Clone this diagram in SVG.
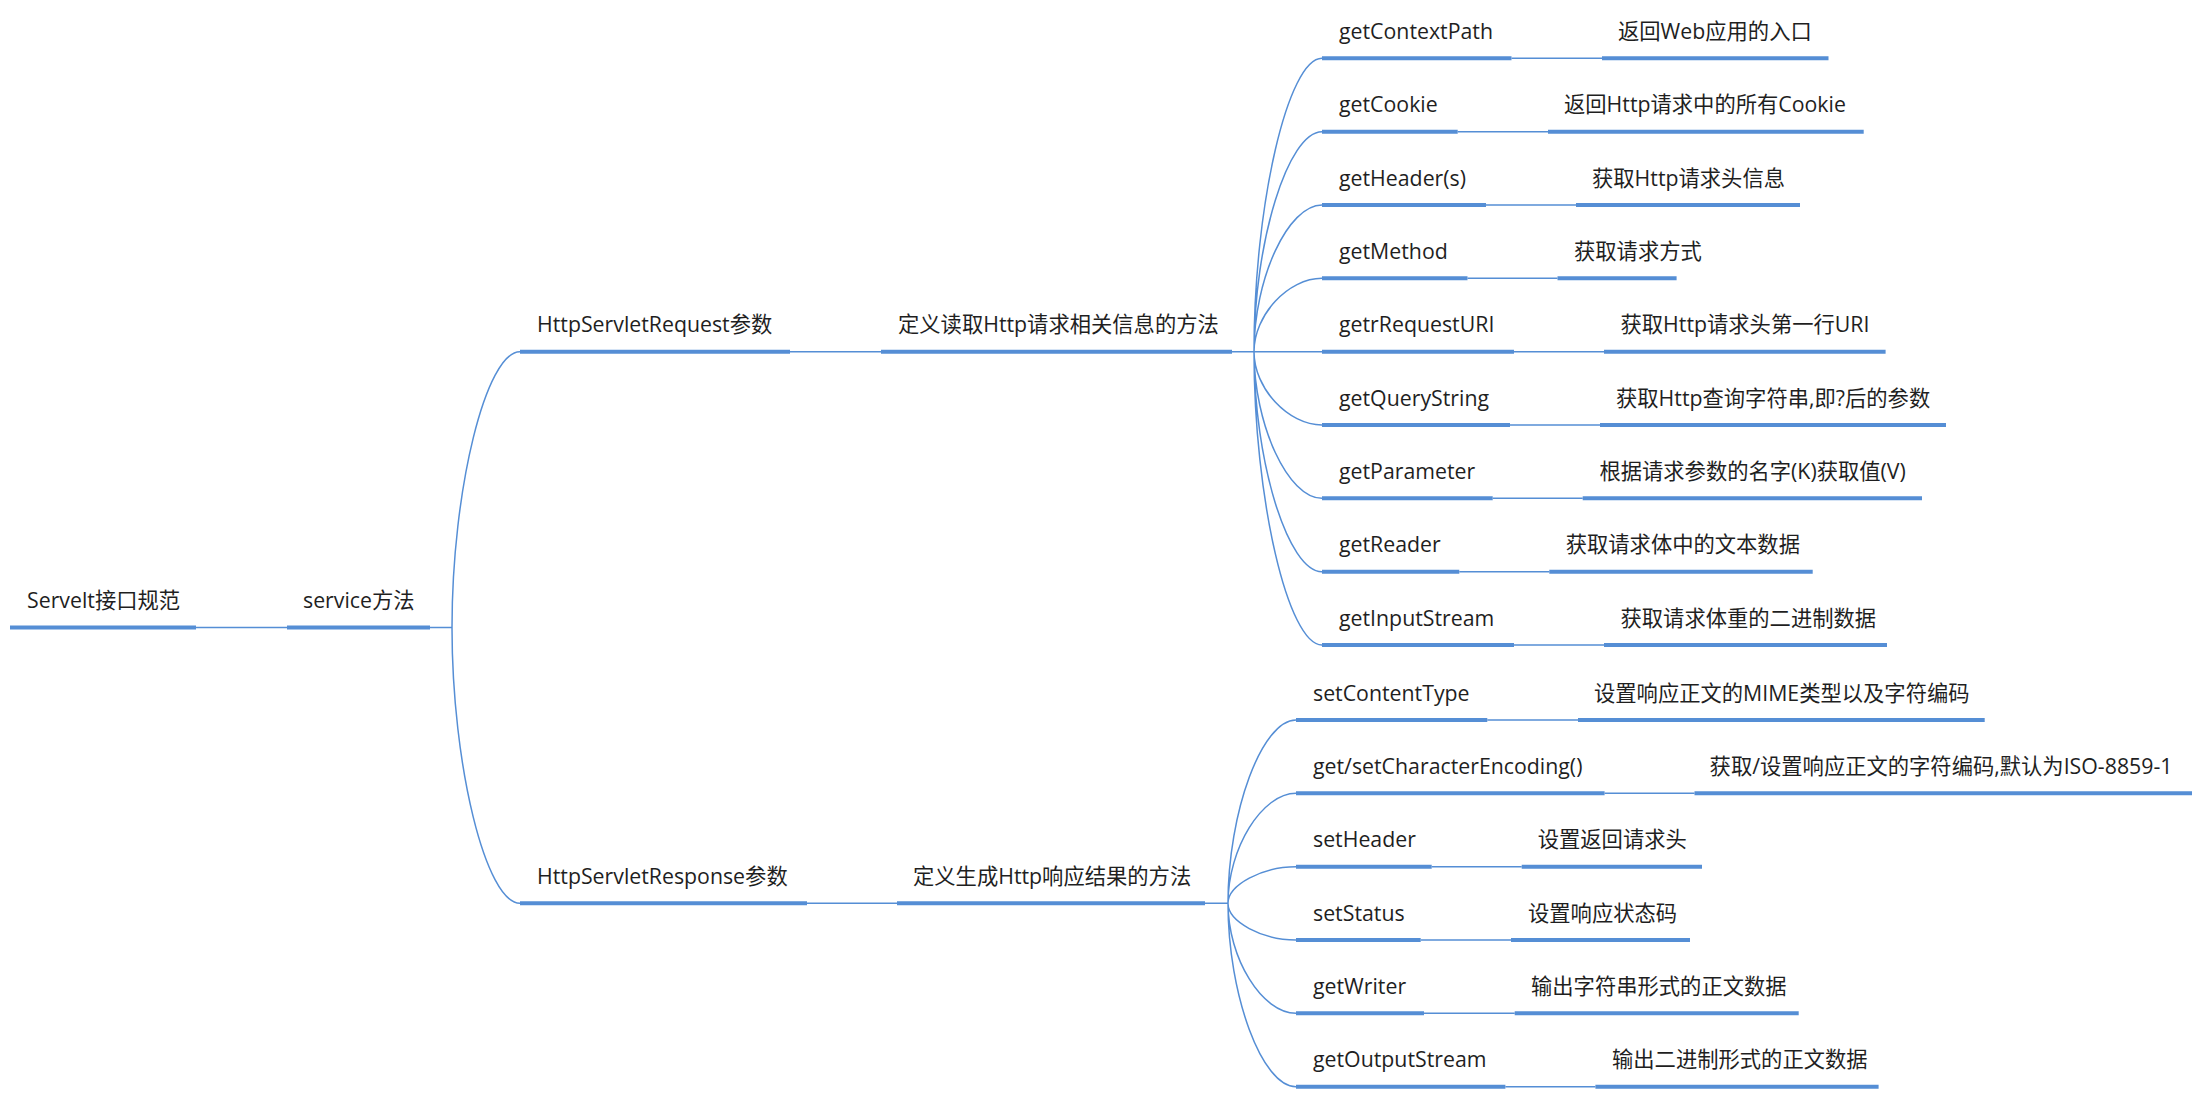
<svg xmlns="http://www.w3.org/2000/svg" width="2200" height="1102" viewBox="0 0 2200 1102">
<style>
.u{stroke:#558ED5;stroke-width:4;fill:none}
.c{stroke:#558ED5;stroke-width:1.5;fill:none}
text{font-family:"Open Sans","Noto Sans CJK SC",sans-serif;font-size:21.3px;fill:#1f1f1f}
</style>
<rect width="2200" height="1102" fill="#fff"/>
<g id="connectors">
<path class="c" d="M196 627.5H287M430 627.5H452"/>
<path class="c" d="M452 627.5C452 489.6 486 351.7 520 351.7M452 627.5C452 765.4 486 903.3 520 903.3"/>
<path class="c" d="M790 351.7H881M1232 351.7H1254M807 903.3H897M1205 903.3H1228"/>
<path class="c" d="M1254 351.7C1254 205 1288 58.3 1322 58.3M1254 351.7C1254 241.7 1288 131.7 1322 131.7M1254 351.7C1254 278.3 1288 205 1322 205M1254 351.7C1254 315 1288 278.3 1322 278.3M1254 351.7H1322M1254 351.7C1254 388.3 1288 425 1322 425M1254 351.7C1254 425 1288 498.3 1322 498.3M1254 351.7C1254 461.7 1288 571.7 1322 571.7M1254 351.7C1254 498.3 1288 645 1322 645"/>
<path class="c" d="M1228 903.3C1228 811.7 1262 720 1296 720M1228 903.3C1228 848.3 1262 793.3 1296 793.3M1228 903.3C1228 885 1262 866.7 1296 866.7M1228 903.3C1228 921.7 1262 940 1296 940M1228 903.3C1228 958.3 1262 1013.3 1296 1013.3M1228 903.3C1228 995 1262 1086.7 1296 1086.7"/>
<path class="c" d="M1511.5 58.3H1602M1457.7 131.7H1548M1486 205H1576M1467.5 278.3H1557.5M1514 351.7H1604M1510 425H1600M1492.7 498.3H1582.7M1459.3 571.7H1549.3M1514 645H1604"/>
<path class="c" d="M1487.3 720H1578M1604.6 793.3H1694.5M1431.7 866.7H1521.7M1420.7 940H1511M1424 1013.3H1514.7M1505.4 1086.7H1595.4"/>
</g>
<g id="root"><line class="u" x1="10" y1="627.5" x2="196" y2="627.5"/><text x="27" y="608">Servelt接口规范</text></g>
<g id="service"><line class="u" x1="287" y1="627.5" x2="430" y2="627.5"/><text x="303" y="608">service方法</text></g>
<g id="request"><line class="u" x1="520" y1="351.7" x2="790" y2="351.7"/><text x="537" y="332">HttpServletRequest参数</text></g>
<g id="request-desc"><line class="u" x1="881" y1="351.7" x2="1232" y2="351.7"/><text x="898" y="332">定义读取Http请求相关信息的方法</text></g>
<g id="response"><line class="u" x1="520" y1="903.3" x2="807" y2="903.3"/><text x="537" y="884">HttpServletResponse参数</text></g>
<g id="response-desc"><line class="u" x1="897" y1="903.3" x2="1205" y2="903.3"/><text x="913" y="884">定义生成Http响应结果的方法</text></g>

<g id="getContextPath"><line class="u" x1="1322" y1="58.3" x2="1511.5" y2="58.3"/><text x="1339" y="39">getContextPath</text></g>
<g id="getContextPath-desc"><line class="u" x1="1602" y1="58.3" x2="1828.5" y2="58.3"/><text x="1618" y="39">返回Web应用的入口</text></g>
<g id="getCookie"><line class="u" x1="1322" y1="131.7" x2="1457.7" y2="131.7"/><text x="1339" y="112">getCookie</text></g>
<g id="getCookie-desc"><line class="u" x1="1548" y1="131.7" x2="1863.7" y2="131.7"/><text x="1564" y="112">返回Http请求中的所有Cookie</text></g>
<g id="getHeaders"><line class="u" x1="1322" y1="205" x2="1486" y2="205"/><text x="1339" y="185.5">getHeader(s)</text></g>
<g id="getHeaders-desc"><line class="u" x1="1576" y1="205" x2="1800" y2="205"/><text x="1592" y="185.5">获取Http请求头信息</text></g>
<g id="getMethod"><line class="u" x1="1322" y1="278.3" x2="1467.5" y2="278.3"/><text x="1339" y="259">getMethod</text></g>
<g id="getMethod-desc"><line class="u" x1="1557.5" y1="278.3" x2="1676.6" y2="278.3"/><text x="1574" y="259">获取请求方式</text></g>
<g id="getrRequestURI"><line class="u" x1="1322" y1="351.7" x2="1514" y2="351.7"/><text x="1339" y="332">getrRequestURI</text></g>
<g id="getrRequestURI-desc"><line class="u" x1="1604" y1="351.7" x2="1885.6" y2="351.7"/><text x="1620.5" y="332">获取Http请求头第一行URI</text></g>
<g id="getQueryString"><line class="u" x1="1322" y1="425" x2="1510" y2="425"/><text x="1339" y="405.5">getQueryString</text></g>
<g id="getQueryString-desc"><line class="u" x1="1600" y1="425" x2="1946" y2="425"/><text x="1616" y="405.5">获取Http查询字符串,即?后的参数</text></g>
<g id="getParameter"><line class="u" x1="1322" y1="498.3" x2="1492.7" y2="498.3"/><text x="1339" y="479">getParameter</text></g>
<g id="getParameter-desc"><line class="u" x1="1582.7" y1="498.3" x2="1922" y2="498.3"/><text x="1599.4" y="479">根据请求参数的名字(K)获取值(V)</text></g>
<g id="getReader"><line class="u" x1="1322" y1="571.7" x2="1459.3" y2="571.7"/><text x="1339" y="552">getReader</text></g>
<g id="getReader-desc"><line class="u" x1="1549.3" y1="571.7" x2="1812.7" y2="571.7"/><text x="1565.7" y="552">获取请求体中的文本数据</text></g>
<g id="getInputStream"><line class="u" x1="1322" y1="645" x2="1514" y2="645"/><text x="1339" y="625.5">getInputStream</text></g>
<g id="getInputStream-desc"><line class="u" x1="1604" y1="645" x2="1887" y2="645"/><text x="1620.5" y="625.5">获取请求体重的二进制数据</text></g>

<g id="setContentType"><line class="u" x1="1296" y1="720" x2="1487.3" y2="720"/><text x="1313" y="700.5">setContentType</text></g>
<g id="setContentType-desc"><line class="u" x1="1578" y1="720" x2="1984.7" y2="720"/><text x="1594" y="700.5">设置响应正文的MIME类型以及字符编码</text></g>
<g id="setCharacterEncoding"><line class="u" x1="1296" y1="793.3" x2="1604.6" y2="793.3"/><text x="1313" y="774">get/setCharacterEncoding()</text></g>
<g id="setCharacterEncoding-desc"><line class="u" x1="1694.5" y1="793.3" x2="2192" y2="793.3"/><text x="1709.6" y="774">获取/设置响应正文的字符编码,默认为ISO-8859-1</text></g>
<g id="setHeader"><line class="u" x1="1296" y1="866.7" x2="1431.7" y2="866.7"/><text x="1313" y="847">setHeader</text></g>
<g id="setHeader-desc"><line class="u" x1="1521.7" y1="866.7" x2="1702" y2="866.7"/><text x="1537.7" y="847">设置返回请求头</text></g>
<g id="setStatus"><line class="u" x1="1296" y1="940" x2="1420.7" y2="940"/><text x="1313" y="920.5">setStatus</text></g>
<g id="setStatus-desc"><line class="u" x1="1511" y1="940" x2="1690" y2="940"/><text x="1528" y="920.5">设置响应状态码</text></g>
<g id="getWriter"><line class="u" x1="1296" y1="1013.3" x2="1424" y2="1013.3"/><text x="1313" y="994">getWriter</text></g>
<g id="getWriter-desc"><line class="u" x1="1514.7" y1="1013.3" x2="1798.7" y2="1013.3"/><text x="1531" y="994">输出字符串形式的正文数据</text></g>
<g id="getOutputStream"><line class="u" x1="1296" y1="1086.7" x2="1505.4" y2="1086.7"/><text x="1313" y="1067">getOutputStream</text></g>
<g id="getOutputStream-desc"><line class="u" x1="1595.4" y1="1086.7" x2="1878.6" y2="1086.7"/><text x="1612" y="1067">输出二进制形式的正文数据</text></g>
</svg>
